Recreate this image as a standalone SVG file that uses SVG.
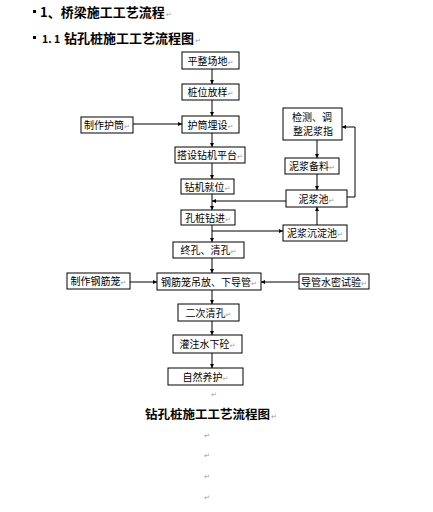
<svg xmlns="http://www.w3.org/2000/svg" width="433" height="512" viewBox="0 0 433 512">
<style>
.bx{fill:#fff;stroke:#000;stroke-width:1}
.t{font-family:"Noto Sans CJK SC","Liberation Sans",sans-serif;font-size:10px;fill:#000;text-anchor:middle}
.pm{font-family:"DejaVu Sans",sans-serif;font-size:7px;fill:#999;font-weight:normal}
.h{font-family:"Noto Sans CJK SC","Liberation Sans",sans-serif;font-weight:bold;fill:#000}
.ln{fill:none;stroke:#000;stroke-width:1}
</style>
<defs>
<marker id="a" markerUnits="userSpaceOnUse" markerWidth="5" markerHeight="5" refX="4" refY="2.5" orient="auto">
<path d="M0,0.5 L4,2.5 L0,4.5 Z" fill="#000"/>
</marker>
</defs>
<rect width="433" height="512" fill="#fff"/>
<g id="headings">
<rect x="33" y="10" width="3" height="3" fill="#000"/>
<text class="h" x="40" y="17" font-size="13">1、桥梁施工工艺流程<tspan class="pm" dx="1">↵</tspan></text>
<rect x="33" y="36" width="3" height="3" fill="#000"/>
<text class="h" x="42" y="43" font-size="10.5">1. 1<tspan x="64" font-size="13">钻孔桩施工工艺流程图</tspan><tspan class="pm" dx="1">↵</tspan></text>
</g>
<g id="connectors">
<path class="ln" d="M212,69 V84" marker-end="url(#a)"/>
<path class="ln" d="M212,100 V116" marker-end="url(#a)"/>
<path class="ln" d="M212,133 V147" marker-end="url(#a)"/>
<path class="ln" d="M212,163 V179" marker-end="url(#a)"/>
<path class="ln" d="M212,194 V210" marker-end="url(#a)"/>
<path class="ln" d="M212,225 V242" marker-end="url(#a)"/>
<path class="ln" d="M212,258 V273" marker-end="url(#a)"/>
<path class="ln" d="M212,290 V304" marker-end="url(#a)"/>
<path class="ln" d="M212,321 V335" marker-end="url(#a)"/>
<path class="ln" d="M212,353 V368" marker-end="url(#a)"/>
<path class="ln" d="M133,124 H182" marker-end="url(#a)"/>
<path class="ln" d="M286,201 H212" marker-end="url(#a)"/>
<path class="ln" d="M212,231 H283" marker-end="url(#a)"/>
<path class="ln" d="M317,140 V158" marker-end="url(#a)"/>
<path class="ln" d="M317,174 V190" marker-end="url(#a)"/>
<path class="ln" d="M317,225 V207" marker-end="url(#a)"/>
<path class="ln" d="M347,197 H355 V127 H342" marker-end="url(#a)"/>
<path class="ln" d="M130,282 H157" marker-end="url(#a)"/>
<path class="ln" d="M299,282 H261" marker-end="url(#a)"/>
</g>
<g id="n1"><rect class="bx" x="182" y="52" width="57" height="17"/><text class="t" x="210.5" y="64.5">平整场地<tspan class="pm">↵</tspan></text></g>
<g id="n2"><rect class="bx" x="182" y="84" width="57" height="16"/><text class="t" x="210.5" y="96">桩位放样<tspan class="pm">↵</tspan></text></g>
<g id="n3"><rect class="bx" x="182" y="116" width="57" height="17"/><text class="t" x="210.5" y="128.5">护筒埋设<tspan class="pm">↵</tspan></text></g>
<g id="n4"><rect class="bx" x="81" y="117" width="52" height="16"/><text class="t" x="107" y="129">制作护筒<tspan class="pm">↵</tspan></text></g>
<g id="n5"><rect class="bx" x="175" y="147" width="70" height="16"/><text class="t" x="210" y="159">搭设钻机平台<tspan class="pm">↵</tspan></text></g>
<g id="n6"><rect class="bx" x="181" y="179" width="53" height="15"/><text class="t" x="207.5" y="190.5">钻机就位<tspan class="pm">↵</tspan></text></g>
<g id="n7"><rect class="bx" x="181" y="210" width="54" height="15"/><text class="t" x="208" y="221.5">孔桩钻进<tspan class="pm">↵</tspan></text></g>
<g id="n8"><rect class="bx" x="173" y="242" width="71" height="16"/><text class="t" x="208.5" y="254">终孔、清孔<tspan class="pm">↵</tspan></text></g>
<g id="n9"><rect class="bx" x="157" y="273" width="104" height="17"/><text class="t" x="209" y="285.5">钢筋笼吊放、下导管<tspan class="pm">↵</tspan></text></g>
<g id="n10"><rect class="bx" x="67" y="273" width="63" height="16"/><text class="t" x="98.5" y="285">制作钢筋笼<tspan class="pm">↵</tspan></text></g>
<g id="n11"><rect class="bx" x="299" y="274" width="70" height="15"/><text class="t" x="334" y="285.5">导管水密试验<tspan class="pm">↵</tspan></text></g>
<g id="n12"><rect class="bx" x="178" y="304" width="61" height="17"/><text class="t" x="208.5" y="316.5">二次清孔<tspan class="pm">↵</tspan></text></g>
<g id="n13"><rect class="bx" x="173" y="335" width="69" height="18"/><text class="t" x="207.5" y="348">灌注水下砼<tspan class="pm">↵</tspan></text></g>
<g id="n14"><rect class="bx" x="168" y="368" width="75" height="17"/><text class="t" x="205.5" y="380.5">自然养护<tspan class="pm">↵</tspan></text></g>
<g id="n15"><rect class="bx" x="283" y="108" width="59" height="32"/><text class="t" x="312" y="121">检测、调</text><text class="t" x="313" y="135">整泥浆指</text></g>
<g id="n16"><rect class="bx" x="285" y="158" width="54" height="16"/><text class="t" x="312" y="170">泥浆备料<tspan class="pm">↵</tspan></text></g>
<g id="n17"><rect class="bx" x="286" y="190" width="61" height="17"/><text class="t" x="316.5" y="202.5">泥浆池<tspan class="pm">↵</tspan></text></g>
<g id="n18"><rect class="bx" x="283" y="225" width="64" height="16"/><text class="t" x="315" y="237">泥浆沉淀池<tspan class="pm">↵</tspan></text></g>
<g id="caption">
<text class="pm" x="211" y="397">↵</text>
<text class="h" x="145" y="419" font-size="12.5">钻孔桩施工工艺流程图<tspan class="pm" dx="1">↵</tspan></text>
<text class="pm" x="204" y="438">↵</text>
<text class="pm" x="204" y="458">↵</text>
<text class="pm" x="204" y="479">↵</text>
<text class="pm" x="204" y="500">↵</text>
</g>
</svg>
